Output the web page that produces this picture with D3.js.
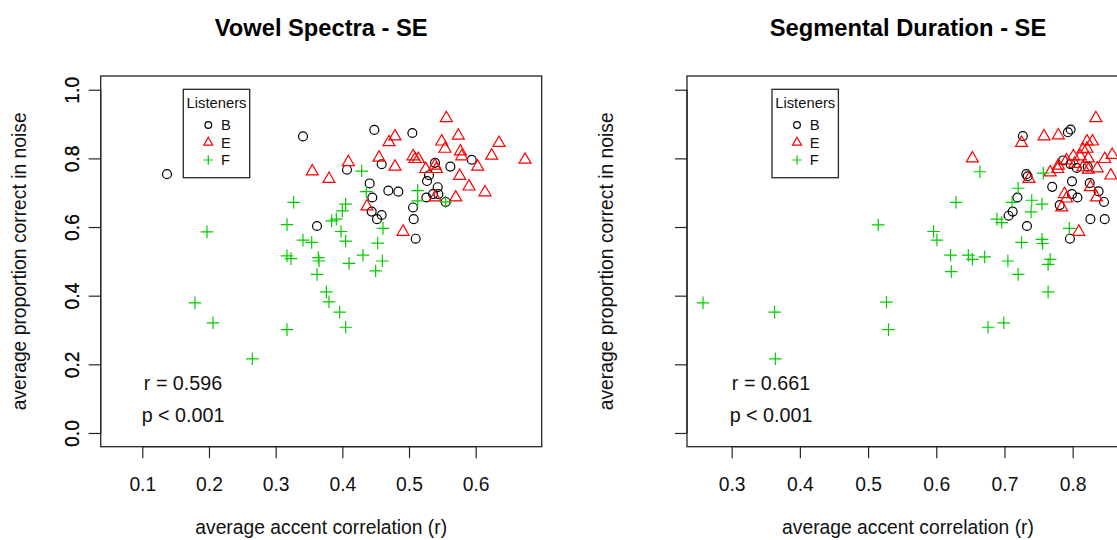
<!DOCTYPE html>
<html><head><meta charset="utf-8">
<script src="https://cdn.jsdelivr.net/npm/d3@7"></script>
<style>body{margin:0;background:#fff}svg{display:block;font-family:"Liberation Sans",Arial,sans-serif}</style>
</head><body>
<svg id="c" width="1117" height="540"></svg>
<script>
// ---------- data ----------
const groups = ["B", "E", "F"];
const xTicksLeft = [0.1, 0.2, 0.3, 0.4, 0.5, 0.6];
const xTicksRight = [0.3, 0.4, 0.5, 0.6, 0.7, 0.8];
const yTicks = [0.0, 0.2, 0.4, 0.6, 0.8, 1.0];
const titles = ["Vowel Spectra - SE", "Segmental Duration - SE"];
const stats = [["r = 0.596", "p < 0.001"], ["r = 0.661", "p < 0.001"]];

// Vowel Spectra panel [accent correlation, proportion correct]
const vowelB = [[0.137,0.754],[0.341,0.864],[0.362,0.603],[0.448,0.883],[0.505,0.874],[0.594,0.796],[0.459,0.783],[0.539,0.787],[0.562,0.776],[0.530,0.751],[0.527,0.734],[0.407,0.767],[0.441,0.727],[0.445,0.686],[0.469,0.706],[0.484,0.703],[0.543,0.716],[0.526,0.686],[0.536,0.696],[0.544,0.696],[0.555,0.673],[0.506,0.657],[0.507,0.623],[0.510,0.566],[0.444,0.645],[0.459,0.635],[0.452,0.623]];
const vowelE = [[0.355,0.762],[0.556,0.917],[0.479,0.864],[0.470,0.847],[0.574,0.866],[0.635,0.845],[0.549,0.849],[0.554,0.828],[0.577,0.820],[0.579,0.806],[0.624,0.808],[0.674,0.796],[0.603,0.776],[0.455,0.802],[0.409,0.789],[0.479,0.776],[0.506,0.806],[0.509,0.798],[0.514,0.798],[0.539,0.779],[0.525,0.769],[0.541,0.769],[0.576,0.749],[0.380,0.740],[0.590,0.718],[0.614,0.701],[0.570,0.686],[0.539,0.686],[0.437,0.660],[0.491,0.586]];
const vowelF = [[0.327,0.672],[0.317,0.607],[0.197,0.586],[0.341,0.562],[0.354,0.555],[0.317,0.516],[0.323,0.508],[0.364,0.511],[0.365,0.501],[0.429,0.763],[0.436,0.703],[0.513,0.706],[0.513,0.676],[0.555,0.673],[0.461,0.596],[0.453,0.553],[0.431,0.518],[0.460,0.501],[0.410,0.494],[0.405,0.667],[0.400,0.647],[0.384,0.618],[0.391,0.623],[0.398,0.587],[0.405,0.559],[0.179,0.379],[0.206,0.321],[0.317,0.301],[0.265,0.216],[0.362,0.462],[0.376,0.411],[0.380,0.382],[0.396,0.352],[0.405,0.308],[0.450,0.472]];

// Segmental Duration panel
const durB = [[0.727,0.865],[0.793,0.876],[0.797,0.884],[0.732,0.754],[0.734,0.748],[0.770,0.717],[0.799,0.733],[0.825,0.728],[0.838,0.704],[0.846,0.673],[0.807,0.686],[0.799,0.696],[0.781,0.664],[0.719,0.686],[0.712,0.645],[0.706,0.633],[0.733,0.603],[0.826,0.623],[0.847,0.623],[0.796,0.566],[0.786,0.794],[0.797,0.783],[0.806,0.772],[0.822,0.776]];
const durE = [[0.834,0.917],[0.725,0.845],[0.758,0.864],[0.779,0.867],[0.653,0.800],[0.736,0.740],[0.788,0.696],[0.791,0.683],[0.784,0.657],[0.835,0.686],[0.826,0.716],[0.809,0.586],[0.821,0.849],[0.829,0.849],[0.815,0.826],[0.821,0.828],[0.801,0.806],[0.811,0.806],[0.823,0.800],[0.847,0.798],[0.858,0.810],[0.791,0.794],[0.779,0.779],[0.767,0.759],[0.778,0.769],[0.836,0.771],[0.856,0.750],[0.815,0.774],[0.823,0.767],[0.803,0.784]];
const durF = [[0.515,0.606],[0.664,0.761],[0.757,0.757],[0.629,0.672],[0.720,0.713],[0.740,0.678],[0.755,0.667],[0.739,0.644],[0.711,0.672],[0.689,0.623],[0.696,0.613],[0.596,0.587],[0.601,0.562],[0.725,0.555],[0.755,0.564],[0.756,0.552],[0.621,0.518],[0.647,0.518],[0.653,0.506],[0.671,0.513],[0.705,0.501],[0.767,0.506],[0.764,0.491],[0.795,0.596],[0.622,0.470],[0.720,0.462],[0.764,0.411],[0.676,0.308],[0.699,0.321],[0.258,0.379],[0.363,0.352],[0.364,0.216],[0.527,0.381],[0.530,0.301]];

// ---------- drawing ----------
const svg = d3.select("#c");
const colors = {B: "#000000", E: "#ff0000", F: "#00cd00"};
const plotTop = 76, plotBottom = 446.7;
const panels = [
  {left: 100.7, right: 541.7, xdom: [0.0376, 0.699], ticks: xTicksLeft, data: {B: vowelB, E: vowelE, F: vowelF}, legendX: 183.3, statX: 183},
  {left: 687, right: 1129, xdom: [0.2345, 0.8826], ticks: xTicksRight, data: {B: durB, E: durE, F: durF}, legendX: 772, statX: 771}
];
const y = d3.scaleLinear().domain([-0.04, 1.04]).range([plotBottom, plotTop]);

function symbol(g, type, cx, cy, r0, col) {
  if (type === "B") {
    g.append("circle").attr("cx", cx).attr("cy", cy).attr("r", r0)
      .attr("fill", "none").attr("stroke", col).attr("stroke-width", 1.2);
  } else if (type === "E") {
    const rt = 1.5551 * r0, xc = 1.3468 * r0, yc = 0.7776 * r0;
    g.append("path").attr("d", `M${cx},${cy - rt}L${cx + xc},${cy + yc}L${cx - xc},${cy + yc}Z`)
      .attr("fill", "none").attr("stroke", col).attr("stroke-width", 1.2);
  } else {
    const a = Math.SQRT2 * r0;
    g.append("path").attr("d", `M${cx - a},${cy}H${cx + a}M${cx},${cy - a}V${cy + a}`)
      .attr("fill", "none").attr("stroke", col).attr("stroke-width", 1.2);
  }
}

panels.forEach((p, i) => {
  const x = d3.scaleLinear().domain(p.xdom).range([p.left, p.right]);
  const g = svg.append("g");
  const clipId = "clip" + i;
  svg.append("clipPath").attr("id", clipId).append("rect")
    .attr("x", p.left).attr("y", plotTop).attr("width", p.right - p.left).attr("height", plotBottom - plotTop);

  const pts = g.append("g").attr("clip-path", `url(#${clipId})`);
  groups.forEach(k => {
    p.data[k].forEach(d => symbol(pts, k, x(d[0]), y(d[1]), 4.45, colors[k]));
  });

  g.append("rect").attr("x", p.left).attr("y", plotTop).attr("width", p.right - p.left).attr("height", plotBottom - plotTop)
    .attr("fill", "none").attr("stroke", "#262626").attr("stroke-width", 1.3);

  const xa = d3.axisBottom(x).tickValues(p.ticks).tickSize(11.5).tickSizeOuter(0).tickPadding(0).tickFormat(d3.format(".1f"));
  const gx = g.append("g").attr("transform", `translate(0,${plotBottom})`).call(xa);
  gx.select(".domain").remove();
  gx.append("line").attr("x1", x(p.ticks[0])).attr("x2", x(p.ticks[p.ticks.length - 1])).attr("y1", 0).attr("y2", 0)
    .attr("stroke", "#262626").attr("stroke-width", 1.3);
  gx.selectAll(".tick line").attr("stroke", "#262626").attr("stroke-width", 1.2);
  gx.selectAll(".tick text").attr("y", 491 - plotBottom).attr("dy", null).attr("font-size", 19.3)
    .attr("font-family", "Liberation Sans, Arial, sans-serif").attr("fill", "#111");

  const ya = d3.axisLeft(y).tickValues(yTicks).tickSize(12).tickSizeOuter(0).tickPadding(0).tickFormat(d3.format(".1f"));
  const gy = g.append("g").attr("transform", `translate(${p.left},0)`).call(ya);
  gy.select(".domain").remove();
  gy.append("line").attr("x1", 0).attr("x2", 0).attr("y1", y(0)).attr("y2", y(1))
    .attr("stroke", "#262626").attr("stroke-width", 1.3);
  gy.selectAll(".tick line").attr("stroke", "#262626").attr("stroke-width", 1.2);
  gy.selectAll(".tick text").attr("x", null).attr("dy", null).attr("y", null)
    .attr("transform", `translate(${78.5 - p.left},0) rotate(-90)`)
    .attr("text-anchor", "middle").attr("font-size", 19.3)
    .attr("font-family", "Liberation Sans, Arial, sans-serif").attr("fill", "#111");

  const cx = (p.left + p.right) / 2;
  g.append("text").attr("x", cx).attr("y", 36).attr("text-anchor", "middle")
    .attr("font-size", 23.7).attr("font-weight", "bold").attr("fill", "#000").text(titles[i]);
  g.append("text").attr("x", cx).attr("y", 534).attr("text-anchor", "middle")
    .attr("font-size", 19.3).attr("fill", "#111").text("average accent correlation (r)");
  g.append("text").attr("transform", `translate(${p.left - 74.5},${(plotTop + plotBottom) / 2}) rotate(-90)`)
    .attr("text-anchor", "middle").attr("font-size", 19.3).attr("fill", "#111").text("average proportion correct in noise");

  g.append("text").attr("x", p.statX).attr("y", 389.5).attr("text-anchor", "middle")
    .attr("font-size", 19.7).attr("fill", "#111").text(stats[i][0]);
  g.append("text").attr("x", p.statX).attr("y", 421.5).attr("text-anchor", "middle")
    .attr("font-size", 19.7).attr("fill", "#111").text(stats[i][1]);

  const lg = g.append("g");
  lg.append("rect").attr("x", p.legendX).attr("y", 89.3).attr("width", 66.4).attr("height", 88.4)
    .attr("fill", "#fff").attr("stroke", "#262626").attr("stroke-width", 1.3);
  lg.append("text").attr("x", p.legendX + 33.2).attr("y", 108).attr("text-anchor", "middle")
    .attr("font-size", 14.8).attr("fill", "#111").text("Listeners");
  groups.forEach((k, j) => {
    const cy = 125 + j * 17.5;
    symbol(lg, k, p.legendX + 25, cy, 3.34, colors[k]);
    lg.append("text").attr("x", p.legendX + 37.7).attr("y", cy + 5.2)
      .attr("font-size", 14.8).attr("fill", "#111").text(k);
  });
});
</script>
</body></html>
